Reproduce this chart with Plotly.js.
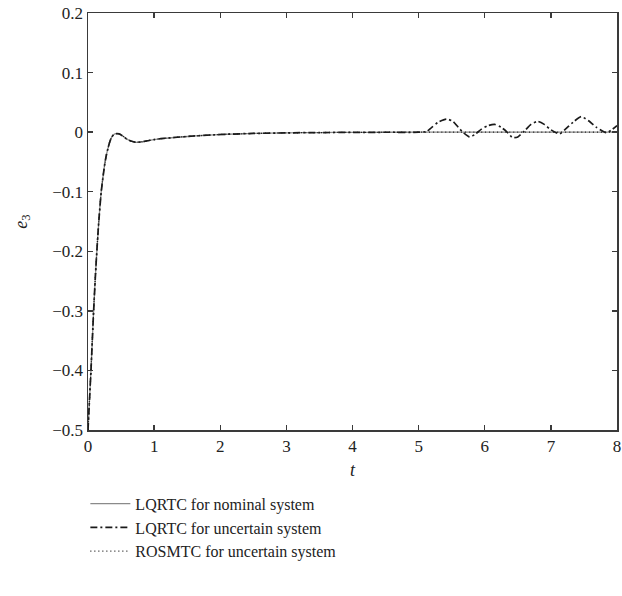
<!DOCTYPE html>
<html>
<head>
<meta charset="utf-8">
<script src="https://cdn.plot.ly/plotly-3.0.1.min.js"></script>
<style>html,body{margin:0;padding:0;background:#fff}#chart{width:622px;height:596px}</style>
</head>
<body>
<div id="chart"></div>
<script>
// Series names
var seriesNames = ["LQRTC for nominal system", "LQRTC for uncertain system", "ROSMTC for uncertain system"];

// LQRTC, nominal system
var tNom = [0, 0.02, 0.045, 0.085, 0.12, 0.16, 0.2, 0.225, 0.25, 0.275, 0.3, 0.33, 0.36, 0.39, 0.43, 0.47, 0.52, 0.58, 0.65, 0.72, 0.8, 0.9, 1.0, 1.1, 1.3, 1.6, 1.9, 2.1, 2.5, 3.0, 3.5, 4.0, 4.5, 5.0, 5.5, 6.0, 6.5, 7.0, 7.5, 8.0];
var eNom = [-0.5, -0.455, -0.4, -0.3, -0.225, -0.155, -0.1, -0.077, -0.056, -0.04, -0.028, -0.016, -0.008, -0.004, -0.0025, -0.003, -0.006, -0.011, -0.015, -0.017, -0.0165, -0.0145, -0.0125, -0.011, -0.009, -0.0065, -0.0045, -0.0035, -0.0022, -0.0012, -0.0007, -0.0004, -0.0002, -0.0001, 0, 0, 0, 0, 0, 0];

// LQRTC, uncertain system
var tUnc = [0, 0.02, 0.045, 0.085, 0.12, 0.16, 0.2, 0.225, 0.25, 0.275, 0.3, 0.33, 0.36, 0.39, 0.43, 0.47, 0.52, 0.58, 0.65, 0.72, 0.8, 0.9, 1.0, 1.1, 1.3, 1.6, 1.9, 2.1, 2.5, 3.0, 3.5, 4.0, 4.5, 5.0, 5.12, 5.2, 5.3, 5.42, 5.52, 5.6, 5.67, 5.77, 5.85, 5.95, 6.05, 6.15, 6.25, 6.33, 6.42, 6.5, 6.6, 6.7, 6.8, 6.9, 7.0, 7.13, 7.22, 7.35, 7.46, 7.57, 7.69, 7.84, 7.92, 8.0];
var eUnc = [-0.5, -0.455, -0.4, -0.3, -0.225, -0.155, -0.1, -0.077, -0.056, -0.04, -0.028, -0.016, -0.008, -0.004, -0.0025, -0.003, -0.006, -0.011, -0.015, -0.017, -0.0165, -0.0145, -0.0125, -0.011, -0.009, -0.0065, -0.0045, -0.0035, -0.0022, -0.0012, -0.0007, -0.0004, -0.0002, -0.0001, 0.001, 0.008, 0.017, 0.022, 0.018, 0.008, 0.0, -0.008, -0.004, 0.005, 0.011, 0.013, 0.008, 0.001, -0.009, -0.008, 0.002, 0.013, 0.018, 0.013, 0.004, -0.003, 0.005, 0.018, 0.026, 0.019, 0.008, -0.001, 0.004, 0.011];

// ROSMTC, uncertain system
var tRos = [0, 0.02, 0.045, 0.085, 0.12, 0.16, 0.2, 0.225, 0.25, 0.275, 0.3, 0.33, 0.36, 0.39, 0.43, 0.47, 0.52, 0.58, 0.65, 0.72, 0.8, 0.9, 1.0, 1.1, 1.3, 1.6, 1.9, 2.1, 2.5, 3.0, 3.5, 4.0, 4.5, 5.0, 5.5, 6.0, 6.5, 7.0, 7.5, 8.0];
var eRos = [-0.5, -0.455, -0.4, -0.3, -0.225, -0.155, -0.1, -0.077, -0.056, -0.04, -0.028, -0.016, -0.008, -0.004, -0.0025, -0.003, -0.006, -0.011, -0.015, -0.017, -0.0165, -0.0145, -0.0125, -0.011, -0.009, -0.0065, -0.0045, -0.0035, -0.0022, -0.0012, -0.0007, -0.0004, -0.0002, -0.0001, 0, 0, 0, 0, 0, 0];

// Axis ticks
var xTicks = [0, 1, 2, 3, 4, 5, 6, 7, 8];
var xTickText = ["0", "1", "2", "3", "4", "5", "6", "7", "8"];
var yTicks = [0.2, 0.1, 0, -0.1, -0.2, -0.3, -0.4, -0.5];
var yTickText = ["0.2", "0.1", "0", "\u22120.1", "\u22120.2", "\u22120.3", "\u22120.4", "\u22120.5"];

var FONT = "Liberation Serif";

var traces = [
  {x: tNom, y: eNom, name: seriesNames[0], mode: "lines",
   line: {color: "#8a8a8a", width: 1.3, shape: "spline", smoothing: 0.6}},
  {x: tUnc, y: eUnc, name: seriesNames[1], mode: "lines",
   line: {color: "#1a1a1a", width: 1.7, dash: "7px,3px,2px,3px", shape: "spline", smoothing: 0.6}},
  {x: tRos, y: eRos, name: seriesNames[2], mode: "lines",
   line: {color: "#1a1a1a", width: 1.3, dash: "1px,3px", shape: "spline", smoothing: 0.6}}
];

function axisBase() {
  return {
    showgrid: false, zeroline: false, showline: true, mirror: "ticks",
    linecolor: "#3a3a3a", linewidth: 1.5, ticks: "inside", ticklen: 5,
    tickwidth: 1.3, tickcolor: "#3a3a3a",
    tickfont: {family: FONT, size: 17, color: "#222"}
  };
}

var xa = axisBase();
xa.range = [0, 8]; xa.tickmode = "array"; xa.tickvals = xTicks; xa.ticktext = xTickText;
xa.title = {text: "<i>t</i>", font: {family: FONT, size: 18, color: "#222"}, standoff: 8};

var ya = axisBase();
ya.range = [-0.5, 0.2]; ya.tickmode = "array"; ya.tickvals = yTicks; ya.ticktext = yTickText;
ya.title = {text: "<i>e</i><sub>3</sub>", font: {family: FONT, size: 18, color: "#222"}, standoff: 20};

var layout = {
  width: 622, height: 596,
  font: {family: FONT, size: 17, color: "#222"},
  paper_bgcolor: "#fff", plot_bgcolor: "#fff",
  margin: {l: 88, r: 5, t: 13, b: 166, pad: 0},
  showlegend: true,
  legend: {x: -0.005, xanchor: "left", y: -0.136, yanchor: "top",
           font: {family: FONT, size: 16, color: "#222"},
           bgcolor: "rgba(0,0,0,0)", borderwidth: 0, tracegroupgap: 0, itemwidth: 40},
  xaxis: xa,
  yaxis: ya
};

Plotly.newPlot("chart", traces, layout, {displayModeBar: false, staticPlot: true});
</script>
</body>
</html>
